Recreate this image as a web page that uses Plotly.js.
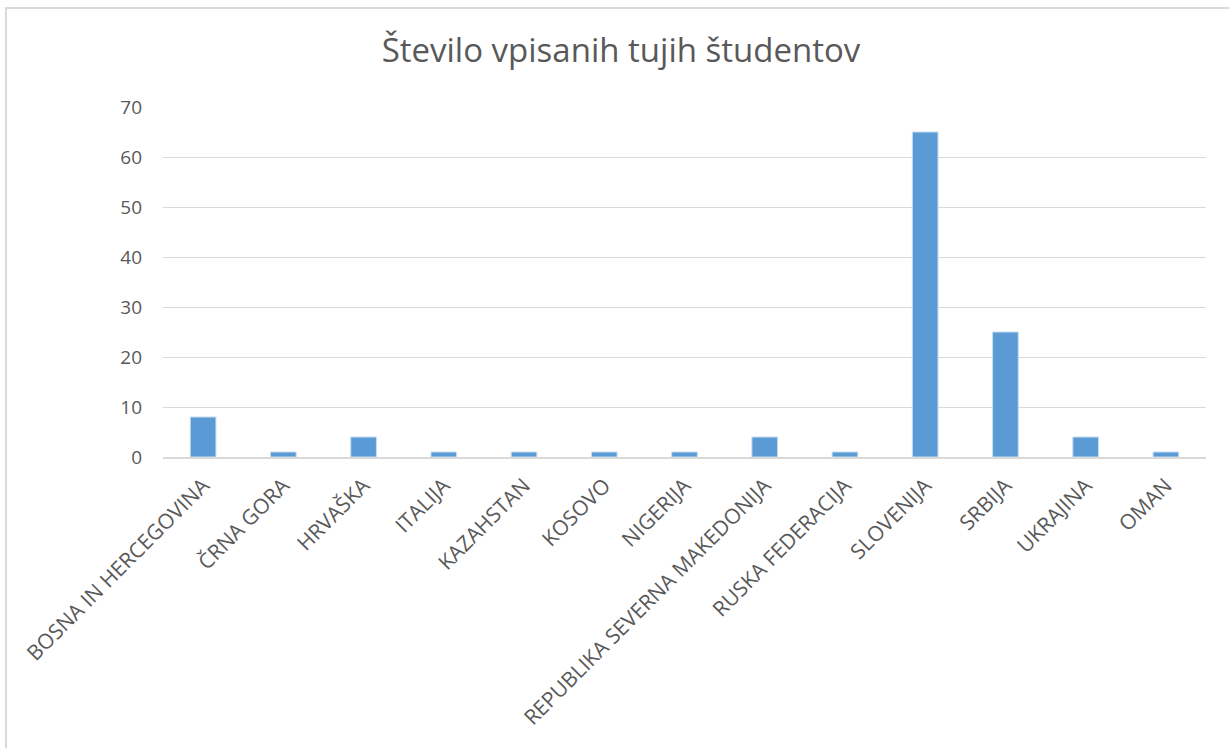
<!DOCTYPE html>
<html>
<head>
<meta charset="utf-8">
<script src="https://cdn.plot.ly/plotly-3.0.1.min.js"></script>
<style>
  html, body { margin: 0; padding: 0; overflow: hidden; background: #fff; }
  #frame { position: absolute; left: 5px; top: 7px; width: 1260px; height: 780px; border: 2px solid #d9d9d9; }
  #chart { position: absolute; left: 0; top: 0; width: 1229px; height: 748px; }
</style>
</head>
<body>
<div id="frame"></div>
<div id="chart"></div>
<script>
const countries = [
  'BOSNA IN HERCEGOVINA', 'ČRNA GORA', 'HRVAŠKA', 'ITALIJA', 'KAZAHSTAN', 'KOSOVO',
  'NIGERIJA', 'REPUBLIKA SEVERNA MAKEDONIJA', 'RUSKA FEDERACIJA', 'SLOVENIJA',
  'SRBIJA', 'UKRAJINA', 'OMAN',
];
const students = [8, 1, 4, 1, 1, 1, 1, 4, 1, 65, 25, 4, 1];
const yTicks = [0, 10, 20, 30, 40, 50, 60, 70];

const textColor = '#595959';
const gridColor = '#d9d9d9';

const plotData = [{
  type: 'bar',
  x: countries,
  y: students,
  width: 0.32,
  marker: {
    color: '#5b9bd5',
    line: { color: '#c9ddf0', width: 1 },
  },
  hoverinfo: 'x+y',
}];

const plotLayout = {
  width: 1229,
  height: 748,
  margin: { l: 163, r: 23, t: 107, b: 291 },
  paper_bgcolor: 'rgba(0,0,0,0)',
  plot_bgcolor: 'rgba(0,0,0,0)',
  font: { family: '"Open Sans", "DejaVu Sans", sans-serif', color: textColor },
  title: {
    text: 'Število vpisanih tujih študentov',
    font: { size: 33, color: textColor },
    x: 621 / 1229,
    xref: 'container',
    y: 1 - 50 / 748,
    yref: 'container',
    yanchor: 'middle',
  },
  bargap: 0,
  xaxis: {
    type: 'category',
    tickangle: -45,
    tickfont: { size: 21, color: textColor },
    showgrid: false,
    showline: true,
    linecolor: gridColor,
    linewidth: 2,
    ticks: '',
    ticklabelstandoff: 6,
    fixedrange: true,
  },
  yaxis: {
    range: [0, 70],
    tickvals: yTicks,
    tickfont: { size: 19, color: textColor },
    showgrid: true,
    gridcolor: gridColor,
    gridwidth: 1,
    zeroline: false,
    showline: false,
    ticks: '',
    ticklabelstandoff: 20,
    fixedrange: true,
  },
  showlegend: false,
};

Plotly.newPlot('chart', plotData, plotLayout, { displayModeBar: false, staticPlot: true });
</script>
</body>
</html>
